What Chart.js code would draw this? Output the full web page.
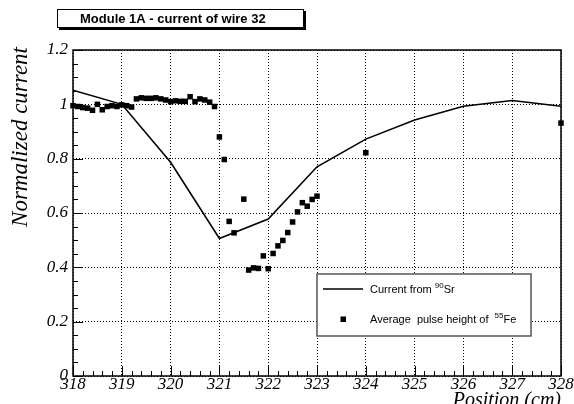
<!DOCTYPE html>
<html>
<head>
<meta charset="utf-8">
<title>Module 1A - current of wire 32</title>
<script src="https://cdn.jsdelivr.net/npm/chart.js@4.4.0/dist/chart.umd.min.js"></script>
<style>
  html, body { margin: 0; padding: 0; background: #fff; }
  canvas { display: block; }
</style>
</head>
<body>
<canvas id="wireChart" width="574" height="404"></canvas>
<script>
// Current from Sr-90 source, one reading per cm
const srPosition = [318, 319, 320, 321, 322, 323, 324, 325, 326, 327, 328];
const srCurrent = [1.052, 1.000, 0.787, 0.506, 0.578, 0.770, 0.872, 0.942, 0.993, 1.014, 0.993];

// Average pulse height of Fe-55, normalized
const fePosition = [
  318.0, 318.1, 318.2, 318.3, 318.4, 318.5, 318.6, 318.7, 318.8, 318.9,
  319.0, 319.1, 319.2, 319.3, 319.4, 319.5, 319.6, 319.7, 319.8, 319.9,
  320.0, 320.1, 320.2, 320.3, 320.4, 320.5, 320.6, 320.7, 320.8, 320.9,
  321.0, 321.1, 321.2, 321.3, 321.5, 321.6, 321.7, 321.8, 321.9,
  322.0, 322.1, 322.2, 322.3, 322.4, 322.5, 322.6, 322.7, 322.8, 322.9,
  323.0, 324.0, 328.0
];
const fePulse = [
  0.995, 0.992, 0.988, 0.986, 0.978, 1.000, 0.980, 0.992, 0.995, 0.992,
  0.998, 0.995, 0.990, 1.020, 1.024, 1.022, 1.022, 1.024, 1.020, 1.016,
  1.010, 1.013, 1.011, 1.011, 1.028, 1.010, 1.020, 1.016, 1.008, 0.992,
  0.880, 0.797, 0.569, 0.527, 0.651, 0.390, 0.398, 0.396, 0.442,
  0.395, 0.451, 0.479, 0.499, 0.528, 0.567, 0.604, 0.638, 0.625, 0.650,
  0.662, 0.822, 0.931
];

const xTicks = [318, 319, 320, 321, 322, 323, 324, 325, 326, 327, 328];
const xTickLabels = ['318', '319', '320', '321', '322', '323', '324', '325', '326', '327', '328'];
const yTicks = [0, 0.2, 0.4, 0.6, 0.8, 1.0, 1.2];
const yTickLabels = ['0', '0.2', '0.4', '0.6', '0.8', '1', '1.2'];

const serifItalic = "'Liberation Serif', 'DejaVu Serif', serif";
const sans = "'Liberation Sans', Arial, sans-serif";
const tickFont = { family: serifItalic, size: 17, style: 'italic', lineHeight: 1 };

// Draw text with a superscript part: [text, sup, text]
function drawSupText(ctx, x, y, parts) {
  let cx = x;
  parts.forEach((p, i) => {
    if (i % 2 === 1) {
      ctx.font = '8px ' + sans;
      ctx.fillText(p, cx, y - 4);
    } else {
      ctx.font = '11px ' + sans;
      ctx.fillText(p, cx, y);
    }
    cx += ctx.measureText(p).width;
  });
}

// Frame, inward ticks, title pave, axis titles and legend box
const decorations = {
  id: 'decorations',
  beforeDraw(chart) {
    const { ctx, width, height } = chart;
    ctx.save();
    ctx.fillStyle = '#fff';
    ctx.fillRect(0, 0, width, height);
    ctx.restore();
  },
  afterDatasetsDraw(chart) {
    const { ctx, chartArea: a, scales: { x, y } } = chart;
    ctx.save();
    ctx.strokeStyle = '#000';
    ctx.lineWidth = 1;

    // x ticks: major every 1 cm, minor every 0.2 cm
    ctx.beginPath();
    const nx = Math.round((x.max - x.min) / 0.2);
    for (let i = 0; i <= nx; i++) {
      const px = Math.round(x.getPixelForValue(x.min + i * 0.2)) + 0.5;
      const len = i % 5 === 0 ? 10 : 5;
      ctx.moveTo(px, a.bottom);
      ctx.lineTo(px, a.bottom - len);
    }
    // y ticks: major every 0.2, minor every 0.05
    const ny = Math.round((y.max - y.min) / 0.05);
    for (let i = 0; i <= ny; i++) {
      const py = Math.round(y.getPixelForValue(y.min + i * 0.05)) + 0.5;
      const len = i % 4 === 0 ? 10 : 5;
      ctx.moveTo(a.left, py);
      ctx.lineTo(a.left + len, py);
    }
    ctx.stroke();

    // frame
    ctx.lineWidth = 1.5;
    ctx.strokeRect(a.left, a.top, a.right - a.left, a.bottom - a.top);
    ctx.restore();
  },
  afterDraw(chart) {
    const { ctx, chartArea: a } = chart;
    ctx.save();

    // title pave with a thin shadow
    ctx.fillStyle = '#000';
    ctx.fillRect(59, 11, 247, 19);
    ctx.fillStyle = '#fff';
    ctx.fillRect(57, 9, 247, 19);
    ctx.strokeStyle = '#000';
    ctx.lineWidth = 1;
    ctx.strokeRect(57.5, 9.5, 246, 18);
    ctx.fillStyle = '#000';
    ctx.font = 'bold 13px ' + sans;
    ctx.textAlign = 'left';
    ctx.textBaseline = 'middle';
    ctx.fillText('Module 1A - current of wire 32', 80, 19);

    // axis titles
    ctx.font = 'italic 20px ' + serifItalic;
    ctx.textAlign = 'right';
    ctx.textBaseline = 'alphabetic';
    ctx.fillText('Position (cm)', a.right, 406);

    ctx.save();
    ctx.font = 'italic 23px ' + serifItalic;
    ctx.translate(27, a.top - 3);
    ctx.rotate(-Math.PI / 2);
    ctx.fillText('Normalized current', 0, 0);
    ctx.restore();

    // legend
    const lg = { left: 317, top: 274, right: 531, bottom: 336 };
    ctx.fillStyle = '#fff';
    ctx.fillRect(lg.left, lg.top, lg.right - lg.left, lg.bottom - lg.top);
    ctx.strokeStyle = '#555';
    ctx.lineWidth = 1.5;
    ctx.strokeRect(lg.left, lg.top, lg.right - lg.left, lg.bottom - lg.top);

    const srSet = chart.data.datasets[0];
    const feSet = chart.data.datasets[1];
    ctx.strokeStyle = srSet.borderColor;
    ctx.lineWidth = srSet.borderWidth;
    ctx.beginPath();
    ctx.moveTo(323, 289);
    ctx.lineTo(363, 289);
    ctx.stroke();

    ctx.fillStyle = feSet.backgroundColor;
    ctx.fillRect(340.5, 316.5, 5.5, 5.5);

    ctx.fillStyle = '#000';
    ctx.textAlign = 'left';
    ctx.textBaseline = 'middle';
    drawSupText(ctx, 370, 290, ['Current from ', '90', 'Sr']);
    drawSupText(ctx, 370, 320, ['Average  pulse height of  ', '55', 'Fe']);

    ctx.restore();
  }
};

const ctx = document.getElementById('wireChart');

new Chart(ctx, {
  type: 'scatter',
  data: {
    datasets: [{
      label: 'Current from 90Sr',
      data: srPosition.map((p, i) => ({ x: p, y: srCurrent[i] })),
      showLine: true,
      borderColor: '#000',
      borderWidth: 1.6,
      pointRadius: 0,
      tension: 0
    }, {
      label: 'Average pulse height of 55Fe',
      data: fePosition.map((p, i) => ({ x: p, y: fePulse[i] })),
      showLine: false,
      pointStyle: 'rect',
      pointRadius: 3.9,
      backgroundColor: '#000',
      borderWidth: 0,
      clip: false
    }]
  },
  options: {
    responsive: false,
    animation: false,
    events: [],
    layout: { padding: { top: 50, right: 13, bottom: 0, left: 0 } },
    plugins: {
      legend: { display: false },
      title: { display: false },
      tooltip: { enabled: false }
    },
    scales: {
      x: {
        type: 'linear',
        min: 318,
        max: 328,
        afterBuildTicks: s => { s.ticks = xTicks.map(v => ({ value: v })); },
        afterFit: s => { s.height = 28; },
        ticks: {
          callback: (v, i) => xTickLabels[i],
          color: '#000',
          font: tickFont,
          padding: 0,
          maxRotation: 0,
          autoSkip: false
        },
        grid: { color: '#000', lineWidth: 1, drawTicks: false },
        border: { display: false, dash: [1, 2] }
      },
      y: {
        type: 'linear',
        min: 0,
        max: 1.2,
        afterBuildTicks: s => { s.ticks = yTicks.map(v => ({ value: v })); },
        afterFit: s => { s.width = 73; },
        ticks: {
          callback: (v, i) => yTickLabels[i],
          color: '#000',
          font: tickFont,
          padding: 5,
          autoSkip: false
        },
        grid: { color: '#000', lineWidth: 1, drawTicks: false },
        border: { display: false, dash: [1, 2] }
      }
    }
  },
  plugins: [decorations]
});
</script>
</body>
</html>
